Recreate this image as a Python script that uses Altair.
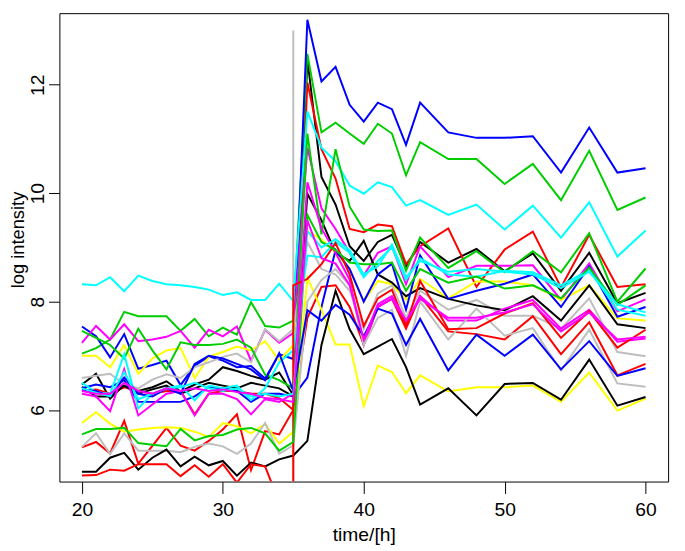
import altair as alt
import pandas as pd

# time points (hours)
times = list(range(20, 45)) + list(range(46, 61, 2))

# R default palette colours
BLACK, RED, GREEN, BLUE = "#000000", "#FF0000", "#00CD00", "#0000FF"
CYAN, MAGENTA, YELLOW, GRAY = "#00FFFF", "#FF00FF", "#FFFF00", "#BEBEBE"

# ---- series values: 16 values for t=20..35, then 17 values for t=36..60
k_a = [6.47, 6.67, 6.21, 6.47, 6.35, 6.42, 6.53, 6.34, 6.47, 6.56, 6.79, 6.72, 6.63, 6.56, 6.69, 6.27,
       12.47, 10.3, 9.79, 9.02, 8.75, 9.1, 9.23, 8.64, 9.1, 8.72, 8.97, 8.56, 8.89, 8.2, 8.9, 7.97, 8.16]
r_a = [6.35, 6.38, 6.3, 6.42, 6.35, 6.3, 6.35, 6.35, 5.92, 6.3, 6.35, 6.35, 6.3, 6.3, 6.22, 6.0,
       12.04, 10.81, 10.27, 9.34, 9.28, 9.42, 9.39, 8.69, 9.02, 9.35, 8.27, 8.96, 9.29, 8.26, 9.23, 8.27, 8.32]
g_a = [7.04, 7.14, 7.3, 7.81, 7.73, 7.73, 7.73, 7.46, 7.68, 7.36, 7.52, 7.39, 7.99, 7.55, 7.52, 7.65,
       12.57, 11.12, 11.3, 11.1, 10.91, 11.28, 11.1, 10.33, 10.94, 10.63, 10.63, 10.17, 10.54, 9.87, 10.78, 9.69, 9.92]
b_a = [7.54, 7.36, 6.97, 7.4, 6.76, 6.83, 6.91, 6.46, 6.82, 6.99, 6.91, 6.79, 6.81, 6.58, 7.03, 6.94,
       13.2, 12.06, 12.33, 11.63, 11.32, 11.67, 11.55, 10.89, 11.67, 11.12, 11.02, 11.02, 11.05, 10.38, 11.21, 10.38, 10.46]
c_a = [8.32, 8.3, 8.45, 8.19, 8.48, 8.38, 8.32, 8.3, 8.27, 8.22, 8.12, 8.17, 8.03, 8.03, 8.33, 8.01,
       11.51, 10.84, 10.59, 10.14, 9.99, 10.2, 10.11, 9.77, 9.87, 9.6, 9.79, 9.33, 9.77, 9.18, 9.83, 8.83, 9.31]
m_a = [7.24, 7.55, 7.3, 7.58, 7.27, 7.3, 7.35, 7.46, 7.15, 7.48, 7.36, 7.54, 6.91, 7.48, 7.24, 7.42,
       10.84, 9.72, 9.34, 8.9, 8.48, 8.9, 9.02, 8.32, 9.02, 8.45, 8.66, 8.66, 8.67, 8.03, 8.7, 7.82, 8.04]
y_a = [7.0, 7.0, 6.79, 7.2, 6.67, 6.95, 7.1, 7.14, 6.59, 6.98, 7.07, 7.17, 7.1, 7.27, 6.91, 7.2,
       9.3, 9.15, 8.9, 8.6, 8.0, 8.38, 8.32, 8.03, 8.42, 8.06, 8.37, 8.37, 8.3, 8.03, 8.3, 7.69, 7.65]
gr_a = [6.59, 6.63, 6.67, 6.47, 6.4, 6.56, 6.66, 6.59, 6.79, 6.88, 6.98, 7.04, 6.88, 7.49, 7.27, 7.49,
        9.1, 8.6, 8.5, 8.2, 7.5, 8.15, 8.3, 7.7, 8.2, 7.85, 8.03, 7.74, 7.74, 7.5, 8.06, 7.07, 6.99]
k_b = [6.43, 6.25, 6.25, 6.45, 6.3, 6.38, 6.45, 6.3, 6.4, 6.5, 6.45, 6.4, 6.5, 6.45, 6.4, 6.25,
       9.99, 9.5, 8.9, 8.75, 9.12, 8.5, 8.35, 8.1, 8.25, 8.05, 7.93, 7.84, 8.1, 7.65, 8.3, 7.58, 7.51]
r_b = [5.31, 5.41, 5.2, 5.8, 5.01, 5.34, 5.67, 5.34, 5.25, 5.43, 5.64, 5.92, 4.89, 5.61, 5.55, 6.0,
       7.7, 8.27, 8.3, 7.9, 7.2, 7.9, 8.05, 7.5, 8.1, 7.45, 7.4, 7.3, 7.73, 7.03, 7.62, 6.64, 6.85]
g_b = [7.46, 7.33, 7.2, 6.95, 7.5, 7.1, 6.75, 7.25, 7.2, 7.2, 7.22, 7.3, 7.15, 6.65, 6.55, 6.4,
       11.1, 9.24, 10.81, 9.75, 9.33, 9.3, 9.31, 8.57, 9.18, 8.62, 8.93, 8.54, 8.93, 8.54, 9.26, 8.0, 8.61]
b_b = [6.4, 6.47, 6.42, 6.55, 6.15, 6.15, 6.15, 6.15, 6.25, 6.42, 6.4, 6.35, 6.15, 6.3, 6.3, 6.25,
       6.6, 7.9, 8.95, 8.6, 8.0, 8.5, 8.7, 7.85, 8.85, 8.05, 8.2, 8.33, 8.5, 7.9, 8.65, 7.72, 7.9]
c_b = [6.5, 6.33, 6.3, 7.03, 6.03, 6.3, 6.4, 6.45, 6.18, 6.45, 6.4, 6.45, 6.18, 6.4, 6.88, 7.1,
       8.85, 8.82, 9.1, 8.9, 8.45, 8.75, 9.0, 8.4, 8.8, 8.5, 8.46, 8.57, 8.54, 8.3, 8.58, 7.85, 7.74]
m_b = [6.3, 6.25, 5.98, 6.75, 5.9, 6.1, 6.3, 6.35, 5.9, 6.3, 6.3, 6.2, 5.92, 6.2, 6.15, 6.3,
       10.2, 9.35, 8.9, 8.4, 7.2, 7.9, 8.05, 7.6, 8.1, 7.65, 7.65, 7.87, 8.03, 7.5, 7.85, 7.26, 7.32]
y_b = [5.76, 5.96, 5.75, 5.6, 5.64, 5.67, 5.68, 5.67, 5.6, 5.5, 5.76, 5.7, 5.57, 5.74, 5.38, 5.6,
       8.44, 7.85, 7.21, 7.21, 6.07, 6.82, 6.7, 6.31, 6.64, 6.34, 6.42, 6.42, 6.45, 6.15, 6.69, 5.99, 6.21]
gr_b = [5.32, 5.57, 5.19, 5.57, 5.25, 5.25, 5.25, 5.22, 5.32, 5.38, 5.33, 5.19, 5.38, 5.76, 5.19, 5.35,
        8.0, 8.4, 8.6, 8.3, 7.2, 7.7, 7.85, 7.0, 8.0, 7.3, 7.87, 7.37, 7.51, 6.73, 7.48, 6.49, 6.43]
k_c = [4.86, 4.86, 5.12, 5.21, 4.9, 5.12, 5.27, 4.96, 5.14, 4.98, 5.06, 4.79, 5.03, 4.96, 5.09, 5.16,
       5.43, 7.2, 8.2, 7.49, 7.03, 7.17, 7.31, 6.79, 6.1, 6.4, 5.9, 6.48, 6.5, 6.19, 6.93, 6.08, 6.24]
# this red series has two readings at t=35 (a jump)
r_c_times = times[:16] + [35] + times[16:]
r_c = [4.79, 4.8, 4.9, 4.88, 5.0, 5.0, 5.0, 4.78, 4.98, 4.77, 5.0, 4.66, 5.0, 4.96, 4.3, 3.5,
       8.3,
       8.42, 8.69, 9.08, 8.5, 7.55, 8.06, 8.22, 7.55, 8.38, 7.49, 7.51, 7.78, 7.97, 7.33, 7.82, 7.15, 7.48]
g_c = [5.55, 5.65, 5.65, 5.67, 5.39, 5.36, 5.33, 5.65, 5.44, 5.52, 5.54, 5.64, 5.67, 5.57, 5.25, 5.41,
       9.6, 9.1, 8.95, 8.72, 8.69, 8.69, 8.72, 8.2, 8.6, 8.35, 8.46, 8.24, 8.3, 8.06, 8.63, 7.94, 8.3]
b_c = [6.37, 6.35, 6.25, 6.6, 6.3, 6.25, 6.4, 6.3, 6.85, 7.0, 6.95, 6.85, 6.75, 6.55, 7.05, 6.35,
       7.84, 7.65, 7.94, 7.76, 7.36, 7.87, 7.78, 7.2, 7.68, 6.73, 7.39, 7.0, 7.39, 6.75, 7.27, 6.63, 6.77]
c_c = [6.4, 6.32, 6.25, 6.7, 6.2, 6.3, 6.4, 6.42, 6.5, 6.4, 6.35, 6.4, 6.25, 6.3, 6.25, 6.3,
       9.3, 9.0, 9.15, 8.95, 8.5, 8.65, 9.05, 8.45, 8.75, 8.55, 8.6, 8.55, 8.5, 8.25, 8.55, 7.95, 7.8]
m_c = [6.35, 6.3, 6.3, 6.5, 6.35, 6.3, 6.4, 6.35, 6.4, 6.35, 6.38, 6.33, 6.3, 6.22, 6.2, 6.15,
       9.5, 8.8, 8.7, 8.3, 7.3, 7.95, 8.1, 7.65, 8.05, 7.7, 7.7, 7.8, 7.95, 7.45, 7.8, 7.3, 7.35]

# pulse marker at t = 35
pulse_t = [35, 35]
pulse_v = [4.0, 13.0]

series = [
    ("pulse", GRAY, pulse_t, pulse_v),
    ("k_a", BLACK, times, k_a), ("r_a", RED, times, r_a), ("g_a", GREEN, times, g_a),
    ("b_a", BLUE, times, b_a), ("c_a", CYAN, times, c_a), ("m_a", MAGENTA, times, m_a),
    ("y_a", YELLOW, times, y_a), ("gr_a", GRAY, times, gr_a),
    ("k_b", BLACK, times, k_b), ("r_b", RED, times, r_b), ("g_b", GREEN, times, g_b),
    ("b_b", BLUE, times, b_b), ("c_b", CYAN, times, c_b), ("m_b", MAGENTA, times, m_b),
    ("y_b", YELLOW, times, y_b), ("gr_b", GRAY, times, gr_b),
    ("k_c", BLACK, times, k_c), ("r_c", RED, r_c_times, r_c), ("g_c", GREEN, times, g_c),
    ("b_c", BLUE, times, b_c), ("c_c", CYAN, times, c_c), ("m_c", MAGENTA, times, m_c),
]

rows = []
for sid, col, ts, vs in series:
    for i, (t, v) in enumerate(zip(ts, vs)):
        rows.append({"sid": sid, "col": col, "t": t, "v": v, "idx": i})
df = pd.DataFrame(rows)

FONT = "Liberation Sans"
FS = 19.5
TFS = 18.5

chart = alt.Chart(df).mark_line(strokeWidth=2, clip=True).encode(
    x=alt.X("t:Q",
            scale=alt.Scale(domain=[18.4, 61.6], nice=False, zero=False),
            axis=alt.Axis(values=[20, 30, 40, 50, 60], title="time/[h]", format="d",
                          domain=False, grid=False, tickSize=12, tickColor="black", tickWidth=1,
                          labelFont=FONT, labelFontSize=FS, labelColor="black",
                          titleFont=FONT, titleFontSize=FS, titleColor="black",
                          titleFontWeight="normal",
                          labelPadding=7, titleY=60, titleBaseline="alphabetic")),
    y=alt.Y("v:Q",
            scale=alt.Scale(domain=[4.68, 13.32], nice=False, zero=False),
            axis=alt.Axis(values=[6, 8, 10, 12], title="log intensity", format="d",
                          domain=False, grid=False, tickSize=11, tickColor="black", tickWidth=1,
                          labelFont=FONT, labelFontSize=FS, labelColor="black",
                          titleFont=FONT, titleFontSize=TFS, titleColor="black",
                          titleFontWeight="normal",
                          labelAngle=-90, labelAlign="center", labelBaseline="alphabetic",
                          labelPadding=5, titleX=-36, titleY=229, titleAngle=-90,
                          titleAlign="center", titleBaseline="alphabetic")),
    color=alt.Color("col:N", scale=None),
    detail="sid:N",
    order="idx:Q",
).properties(
    width=616, height=474,
    background="white",
    autosize=alt.AutoSizeParams(type="none"),
    padding={"left": 52, "top": 2, "right": 9, "bottom": 64},
).configure_view(
    stroke="black", strokeWidth=1
)

chart.save("out.html", embed_options={"renderer": "svg", "actions": False})
